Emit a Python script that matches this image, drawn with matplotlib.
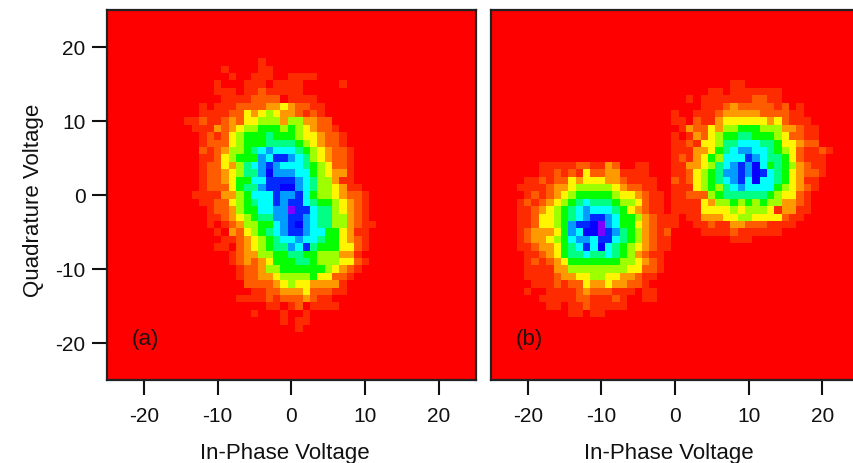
import numpy as np
import matplotlib
matplotlib.use('Agg')
import matplotlib.pyplot as plt
from matplotlib.colors import ListedColormap, hsv_to_rgb

# histogram levels, one hex digit per cell (0 = background)
# rows run top to bottom from row_a_first, columns left to right from col_a_first
row_a_first = 7
col_a_first = 11
rows_a = [
    "000000000010000000000000000",
    "000001000011000000000000000",
    "000000100111001111000000000",
    "0000100011101111000001",
    "0000111011211111000000",
    "00000111122220111100",
    "0010111222233432211",
    "0011112243454332121",
    "11211232445553553322",
    "011132345566656543221",
    "0012124566676665443221",
    "0012224566677776543221",
    "00212355678988876543221",
    "001124566698aa987543221",
    "00122435789a98887654221",
    "00122345779b99988654331",
    "00122346688aaaa98755311",
    "00122246779aabb987554311",
    "011113356888a99a865543221",
    "001122456788a9aa876654321",
    "00012235668899caa87754321",
    "00011234567799aa987755321",
    "00010123556689ab9877553211",
    "00001032456789aa988664311",
    "0000011234567889887664321",
    "0000110234567798a76664421",
    "000000123355667766555331",
    "0000001232346667765554421",
    "000000012235566666654321",
    "00000001223345555644221",
    "0000000022223454433331",
    "0000000001122333422211",
    "00000001111212223211",
    "000000000001101201111",
    "000000000100010010",
    "00000000000001011",
    "0000000000000001",
]

row_b1_first = 10
col_b1_first = 25
rows_b1 = [
    "00000000110000",
    "000001101111111000",
    "00101111111221100",
    "00001112322222120100",
    "1001112333332222110",
    "1102113444444342111",
    "01322435566655533211",
    "10132456677666542211",
    "11214457788877644322",
    "1113346789988765421121",
    "1213465888a9877642111",
    "113345789a9b867653211",
    "112456799a9ba87643221",
    "212456789a8b88764311",
    "11145657898888654321",
    "1122256777777654421",
    "1111435565656553321",
    "1111444454555413311",
    "101133344554444211",
    "10011211332221111",
    "00001111211111100",
    "000000001110000",
]

row_b2_first = 21
col_b2_first = 3
rows_b2 = [
    "0000111112211320011",
    "0000112121422331111",
    "00112122434443321111",
    "01111233455555432211",
    "001212345666665443211",
    "012123456787776554211",
    "011234567898887643211",
    "01124456789aa986653211",
    "011244569aabc986643211",
    "0123334698bbca97653212",
    "012334568998aa87653211",
    "0112334678a8b876543211",
    "001123467787787653211",
    "001212346666666554321",
    "001111335555555544221",
    "00111123344554433211",
    "0001112122433433221",
    "00100111123222111011",
    "00001111122111210011",
    "000001101121111100",
    "0000000011011000",
]

voltage = np.arange(-25, 26)
ticks_x = [-20, -10, 0, 10, 20]
ticks_y = [-20, -10, 0, 10, 20]
# hue for each level, red through yellow, green, cyan and blue to violet
level_hues = [0.0, 0.028, 0.06, 0.10, 0.16, 0.23, 0.33, 0.42, 0.5, 0.565, 0.64, 0.67, 0.75]


def fill(grid, rows, row0, col0):
    for j, row in enumerate(rows):
        for i, ch in enumerate(row):
            if ch != '0':
                grid[row0 + j, col0 + i] = int(ch, 16)


grid_a = np.zeros((51, 51))
fill(grid_a, rows_a, row_a_first, col_a_first)
grid_b = np.zeros((51, 51))
fill(grid_b, rows_b1, row_b1_first, col_b1_first)
fill(grid_b, rows_b2, row_b2_first, col_b2_first)

plt.rcParams['font.family'] = ['Liberation Sans', 'DejaVu Sans']
plt.rcParams['axes.unicode_minus'] = False
colors = hsv_to_rgb([[h, 1, 1] for h in level_hues])
cmap = ListedColormap(colors)

W, H = 854, 464
fig = plt.figure(figsize=(W / 100, H / 100), dpi=100)
ax_a = fig.add_axes([107 / W, 1 - 381 / H, 369 / W, 370 / H])
ax_b = fig.add_axes([491 / W, 1 - 381 / H, 368 / W, 370 / H])

edges = np.append(voltage - 0.5, voltage[-1] + 0.5)
for ax, grid, tag in [(ax_a, grid_a, '(a)'), (ax_b, grid_b, '(b)')]:
    ax.pcolormesh(edges, edges, grid[::-1], cmap=cmap, vmin=-0.5, vmax=12.5)
    ax.set_xlim(-25, 25)
    ax.set_ylim(-25, 25)
    ax.set_xticks(ticks_x)
    ax.tick_params(axis='x', length=10.5, width=1.5, labelsize=15, pad=8, colors='#111111')
    ax.set_xlabel('In-Phase Voltage', fontsize=16, va='center', color='#111111')
    ax.xaxis.set_label_coords(0.483, -0.195)
    for s in ax.spines.values():
        s.set_linewidth(1.6)
        s.set_color('#222222')
    ax.text(-21.6, -19.4, tag, fontsize=16, ha='left', va='center', color='#221111')

ax_a.set_yticks(ticks_y)
ax_a.tick_params(axis='y', length=10.5, width=1.5, labelsize=15, pad=5, colors='#111111')
ax_a.set_ylabel('Quadrature Voltage', fontsize=16, va='center', color='#111111')
ax_a.yaxis.set_label_coords(-0.198, 0.489)
ax_b.set_yticks([])

fig.savefig('out.png', dpi=100)
